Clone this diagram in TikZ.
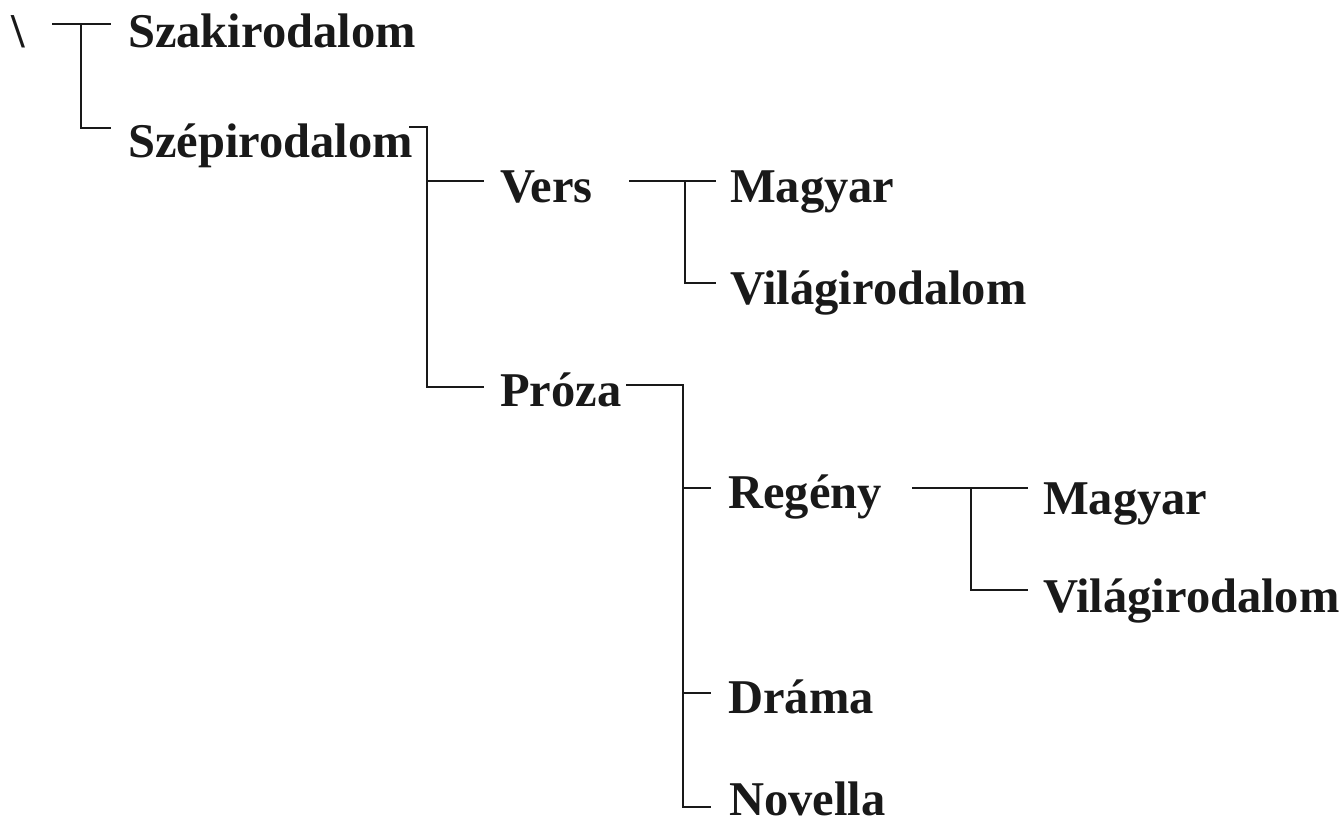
\documentclass[tikz,border=0pt]{standalone}
\usepackage{fontspec}
\setmainfont{Liberation Serif}
\begin{document}
\begin{tikzpicture}[x=1pt,y=-1pt,
  txt/.style={anchor=base west,inner sep=0pt,text=black!90,
    font=\fontsize{48.5}{56}\selectfont\bfseries},
  branch/.style={line width=1.9pt,draw=black!90,line cap=rect}]
\useasboundingbox (0,0) rectangle (1344,817);
\clip (0,0) rectangle (1344,817);

% texts
\node[txt] (bs)    at (11,47)   {\textbackslash};
\node[txt] (szak)  at (128,47)  {Szakirodalom};
\node[txt] (szep)  at (128,157) {Szépirodalom};
\node[txt] (vers)  at (500,202) {Vers};
\node[txt] (vmag)  at (730,202) {Magyar};
\node[txt] (vvil)  at (730,304) {Világirodalom};
\node[txt] (proza) at (500,406) {Próza};
\node[txt] (reg)   at (728,508) {Regény};
\node[txt] (rmag)  at (1043,514){Magyar};
\node[txt] (rvil)  at (1043,612){Világirodalom};
\node[txt] (drama) at (728,713) {Dráma};
\node[txt] (nov)   at (729,815) {Novella};

% junction points
\coordinate (r0) at (53,24);
\coordinate (r1) at (81,24);
\coordinate (r2) at (110,24);
\coordinate (r3) at (81,128);
\coordinate (r4) at (110,128);

\coordinate (s0) at (410,127);
\coordinate (s1) at (427,127);
\coordinate (s2) at (427,181);
\coordinate (s3) at (483,181);
\coordinate (s4) at (427,387);
\coordinate (s5) at (483,387);

\coordinate (v0) at (630,181);
\coordinate (v1) at (685,181);
\coordinate (v2) at (715,181);
\coordinate (v3) at (685,283);
\coordinate (v4) at (715,283);

\coordinate (p0) at (627,385);
\coordinate (p1) at (683,385);
\coordinate (p2) at (683,488);
\coordinate (p3) at (710,488);
\coordinate (p4) at (683,693);
\coordinate (p5) at (710,693);
\coordinate (p6) at (683,807);
\coordinate (p7) at (710,807);

\coordinate (g0) at (913,488);
\coordinate (g1) at (971,488);
\coordinate (g2) at (1027,488);
\coordinate (g3) at (971,590);
\coordinate (g4) at (1027,590);

% root bracket
\draw[branch] (r0) -- (r2);
\draw[branch] (r1) -- (r3) -- (r4);
% Szépirodalom
\draw[branch] (s0) -- (s1) -- (s4) -- (s5);
\draw[branch] (s2) -- (s3);
% Vers
\draw[branch] (v0) -- (v2);
\draw[branch] (v1) -- (v3) -- (v4);
% Próza
\draw[branch] (p0) -- (p1) -- (p6) -- (p7);
\draw[branch] (p2) -- (p3);
\draw[branch] (p4) -- (p5);
% Regény
\draw[branch] (g0) -- (g2);
\draw[branch] (g1) -- (g3) -- (g4);
\end{tikzpicture}
\end{document}
